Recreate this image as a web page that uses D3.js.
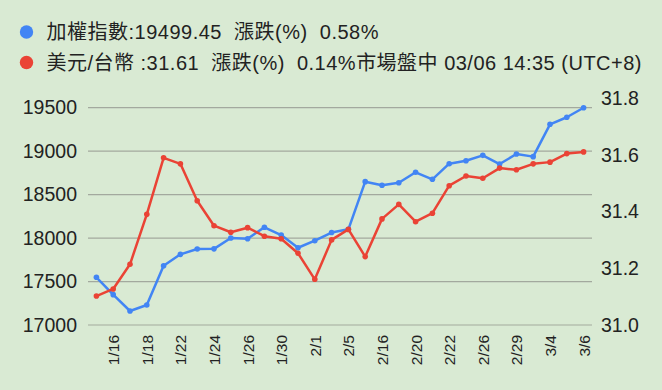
<!DOCTYPE html>
<head>
  <meta charset="utf-8">
  <script src="https://d3js.org/d3.v7.min.js"></script>
  <style>
    body { margin:0; background:#d9ead3; }
    svg text { font-family: "Liberation Sans", Arial, "Noto Sans CJK TC", sans-serif; fill:#222; }
  </style>
</head>

<body>
  <div class="line-chart"></div>
  <script>
    // trading days 2024/1/15 - 3/6
    const dates = ['1/15','1/16','1/17','1/18','1/19','1/22','1/23','1/24','1/25','1/26',
                   '1/29','1/30','1/31','2/1','2/2','2/5','2/15','2/16','2/19','2/20',
                   '2/21','2/22','2/23','2/26','2/27','2/29','3/1','3/4','3/5','3/6'];

    // 加權指數
    const taiex = [17549, 17349, 17161, 17230, 17682, 17813, 17874, 17876, 18001, 17993,
                   18124, 18035, 17889, 17970, 18064, 18101, 18649, 18607, 18637, 18757,
                   18676, 18856, 18890, 18952, 18852, 18967, 18937, 19309, 19390, 19499.45];

    // 美元/台幣
    const usdtwd = [31.102, 31.127, 31.214, 31.390, 31.589, 31.568, 31.438, 31.350, 31.327, 31.343,
                    31.313, 31.304, 31.253, 31.161, 31.300, 31.337, 31.241, 31.374, 31.425, 31.364,
                    31.394, 31.491, 31.525, 31.517, 31.553, 31.547, 31.568, 31.574, 31.604, 31.61];

    const leftTicks = [17000, 17500, 18000, 18500, 19000, 19500];
    const rightTicks = [31.0, 31.2, 31.4, 31.6, 31.8];

    const legendText = [
      '加權指數:19499.45  漲跌(%)  0.58%',
      '美元/台幣 :31.61  漲跌(%)  0.14%市場盤中 03/06 14:35 (UTC+8)'
    ];
    const legendColors = ['#4285f4', '#ea4335'];
    // measured text widths in the reference
    const legendWidths = [332, 595];

    const width = 662, height = 390;

    const svg = d3.select('.line-chart')
      .append('svg')
        .attr('width', width)
        .attr('height', height);

    svg.append('rect')
      .attr('width', width)
      .attr('height', height)
      .attr('fill', '#d9ead3');

    // legend
    const lg = svg.selectAll('.legend')
      .data(legendText)
      .enter()
      .append('g')
        .attr('class', 'legend')
        .attr('transform', (d, i) => `translate(0, ${32 + i * 30.5})`);

    lg.append('circle')
      .attr('cx', 26.5)
      .attr('r', 6.7)
      .attr('fill', (d, i) => legendColors[i]);

    lg.append('text')
      .attr('x', 46.5)
      .attr('dy', '0.35em')
      .attr('textLength', (d, i) => legendWidths[i])
      .attr('lengthAdjust', 'spacing')
      .style('font-size', '20px')
      .style('white-space', 'pre')
      .text(d => d);

    const x = d3.scalePoint()
      .domain(dates)
      .range([88, 592])
      .padding(0.5);

    const yLeft = d3.scaleLinear()
      .domain([17000, 19500])
      .range([325, 107.7]);

    const yRight = d3.scaleLinear()
      .domain([31.0, 31.8])
      .range([325, 98]);

    // gridlines
    svg.append('g')
      .selectAll('line')
      .data(leftTicks)
      .enter()
      .append('line')
        .attr('x1', 88)
        .attr('x2', 592)
        .attr('y1', d => yLeft(d))
        .attr('y2', d => yLeft(d))
        .attr('stroke', '#a3a99e')
        .attr('stroke-width', 1.2);

    // left axis
    svg.append('g')
      .attr('transform', 'translate(88,0)')
      .call(d3.axisLeft(yLeft).tickValues(leftTicks).tickSize(0).tickPadding(11).tickFormat(d3.format('d')))
      .call(g => g.select('.domain').remove())
      .selectAll('text')
        .style('font-size', '19.5px');

    // right axis
    svg.append('g')
      .attr('transform', 'translate(592,0)')
      .call(d3.axisRight(yRight).tickValues(rightTicks).tickSize(0).tickPadding(9).tickFormat(d3.format('.1f')))
      .call(g => g.select('.domain').remove())
      .selectAll('text')
        .style('font-size', '19.5px');

    // x axis: every other day
    const xAxis = svg.append('g')
      .attr('transform', 'translate(0,325)')
      .call(d3.axisBottom(x).tickValues(dates.filter((d, i) => i % 2 === 1)).tickSize(0))
      .call(g => g.select('.domain').remove());

    xAxis.selectAll('text')
      .style('font-size', '15.5px')
      .attr('text-anchor', 'end')
      .attr('transform', 'rotate(-90)')
      .attr('x', -10)
      .attr('y', 0)
      .attr('dy', '0.35em');

    const series = [
      { values: taiex, scale: yLeft, color: '#4285f4' },
      { values: usdtwd, scale: yRight, color: '#ea4335' }
    ];

    series.forEach(s => {
      const line = d3.line()
        .x((d, i) => x(dates[i]))
        .y(d => s.scale(d));

      svg.append('path')
        .attr('d', line(s.values))
        .attr('fill', 'none')
        .attr('stroke', s.color)
        .attr('stroke-width', 2.5)
        .attr('stroke-linejoin', 'round');

      svg.append('g')
        .selectAll('circle')
        .data(s.values)
        .enter()
        .append('circle')
          .attr('cx', (d, i) => x(dates[i]))
          .attr('cy', d => s.scale(d))
          .attr('r', 2.8)
          .attr('fill', s.color);
    });
  </script>
</body>
</html>
